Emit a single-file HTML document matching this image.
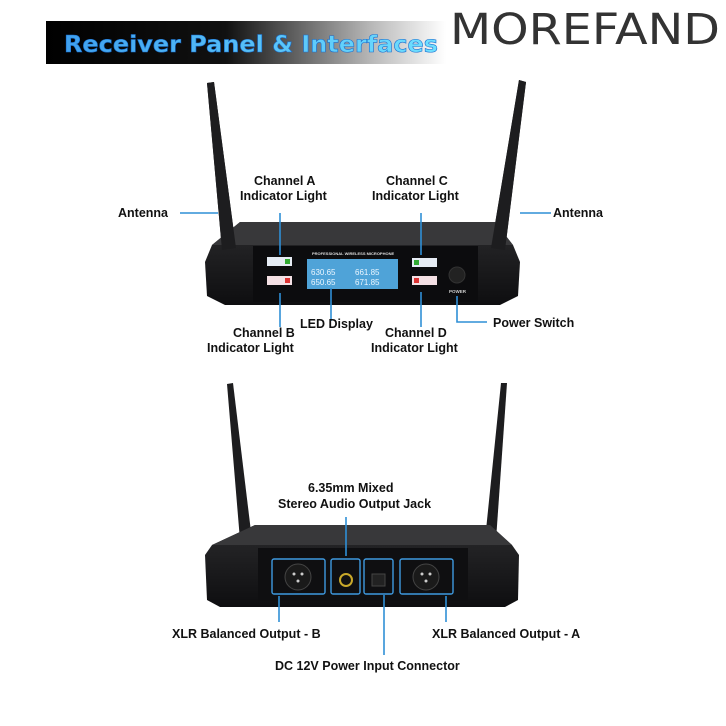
<!DOCTYPE html>
<html><head><meta charset="utf-8"><style>
html,body{margin:0;padding:0;background:#fff;}
svg{display:block;}
text{font-family:"Liberation Sans","DejaVu Sans",sans-serif;font-weight:bold;font-size:12.5px;fill:#111;}
</style></head><body>
<svg width="726" height="726" viewBox="0 0 726 726" xmlns="http://www.w3.org/2000/svg">
<defs>
<linearGradient id="bar" x1="0" x2="1" y1="0" y2="0">
<stop offset="0" stop-color="#000"/><stop offset="0.45" stop-color="#111"/><stop offset="0.82" stop-color="#bbb"/><stop offset="1" stop-color="#fff"/>
</linearGradient>
<linearGradient id="tt" x1="0" x2="1"><stop offset="0" stop-color="#3fa0ee"/><stop offset="1" stop-color="#6fe0ff"/></linearGradient>
<linearGradient id="body" x1="0" x2="0" y1="0" y2="1"><stop offset="0" stop-color="#2a2a2c"/><stop offset="1" stop-color="#0e0e10"/></linearGradient>
</defs>
<rect width="726" height="726" fill="#fff"/>
<!-- header -->
<rect x="46" y="21" width="400" height="43" fill="url(#bar)"/>
<text x="64" y="52" style="font-family:'DejaVu Sans',sans-serif;font-size:23px;font-weight:bold;fill:url(#tt);stroke:#1a6fd0;stroke-width:0.6" textLength="374" lengthAdjust="spacingAndGlyphs">Receiver Panel &amp; Interfaces</text>
<text x="450" y="44" style="font-family:'DejaVu Sans',sans-serif;font-size:43px;font-weight:normal;fill:#333" textLength="270" lengthAdjust="spacingAndGlyphs">MOREFAND</text>

<!-- TOP DEVICE -->
<polygon points="207,83 214,82 236,248 222,250" fill="#1d1d1f"/>
<polygon points="519,80 526,82 505,250 491,248" fill="#1d1d1f"/>
<path d="M240,222 L495,222 L513,245 L520,262 L518,296 L500,305 L225,305 L207,296 L205,262 L212,245 Z" fill="url(#body)"/>
<path d="M240,222 L495,222 L513,245 L212,245 Z" fill="#38383a"/>
<polygon points="207,83 214,82 236,248 222,250" fill="#1d1d1f"/>
<polygon points="519,80 526,82 505,250 491,248" fill="#1d1d1f"/>
<rect x="253" y="246" width="225" height="56" fill="#0c0c0e"/>
<text x="312" y="255" style="font-size:4px;fill:#ddd">PROFESSIONAL WIRELESS MICROPHONE</text>
<rect x="307" y="259" width="91" height="30" fill="#4fa3d8"/>
<text x="311" y="275" style="font-size:8px;font-weight:normal;fill:#eaf6ff">630.65</text>
<text x="311" y="285" style="font-size:8px;font-weight:normal;fill:#eaf6ff">650.65</text>
<text x="355" y="275" style="font-size:8px;font-weight:normal;fill:#eaf6ff">661.85</text>
<text x="355" y="285" style="font-size:8px;font-weight:normal;fill:#eaf6ff">671.85</text>
<rect x="267" y="257" width="25" height="9" fill="#e6ecf4"/><rect x="285" y="259" width="5" height="5" fill="#3a3"/>
<rect x="267" y="276" width="25" height="9" fill="#f4e0e4"/><rect x="285" y="278" width="5" height="5" fill="#d33"/>
<rect x="412" y="258" width="25" height="9" fill="#e6ecf4"/><rect x="414" y="260" width="5" height="5" fill="#3a3"/>
<rect x="412" y="276" width="25" height="9" fill="#f4e0e4"/><rect x="414" y="278" width="5" height="5" fill="#d33"/>
<circle cx="457" cy="275" r="8" fill="#222" stroke="#333"/>
<text x="449" y="293" style="font-size:4.5px;fill:#ccc">POWER</text>

<g stroke="#2f8fd6" stroke-width="1.6" fill="none">
<line x1="180" y1="213" x2="218" y2="213"/>
<line x1="520" y1="213" x2="551" y2="213"/>
<line x1="280" y1="213" x2="280" y2="255"/>
<line x1="280" y1="293" x2="280" y2="327"/>
<line x1="331" y1="288" x2="331" y2="321"/>
<line x1="421" y1="213" x2="421" y2="255"/>
<line x1="421" y1="292" x2="421" y2="327"/>
<polyline points="457,296 457,322 487,322"/>
</g>
<text x="118" y="217">Antenna</text>
<text x="553" y="217">Antenna</text>
<text x="254" y="185">Channel A</text>
<text x="240" y="200">Indicator Light</text>
<text x="386" y="185">Channel C</text>
<text x="372" y="200">Indicator Light</text>
<text x="233" y="337">Channel B</text>
<text x="207" y="352">Indicator Light</text>
<text x="300" y="328">LED Display</text>
<text x="385" y="337">Channel D</text>
<text x="371" y="352">Indicator Light</text>
<text x="493" y="327">Power Switch</text>

<!-- BOTTOM DEVICE -->
<polygon points="227,384 233,383 252,540 240,540" fill="#1d1d1f"/>
<polygon points="501,383 507,383 496,540 485,540" fill="#1d1d1f"/>
<path d="M255,525 L490,525 L512,545 L519,555 L518,600 L505,607 L220,607 L207,600 L205,555 L212,545 Z" fill="url(#body)"/>
<path d="M255,525 L490,525 L512,545 L212,545 Z" fill="#38383a"/>
<rect x="258" y="548" width="210" height="53" fill="#0f0f11"/>
<g stroke="#3f9ae0" stroke-width="1.4" fill="none">
<rect x="272" y="559" width="53" height="35" rx="2"/>
<rect x="331" y="559" width="29" height="35" rx="2"/>
<rect x="364" y="559" width="29" height="35" rx="2"/>
<rect x="400" y="559" width="53" height="35" rx="2"/>
</g>
<circle cx="298" cy="577" r="13" fill="#1a1a1a" stroke="#444"/>
<circle cx="426" cy="577" r="13" fill="#1a1a1a" stroke="#444"/>
<g fill="#ccc"><circle cx="294" cy="574" r="1.5"/><circle cx="302" cy="574" r="1.5"/><circle cx="298" cy="581" r="1.5"/><circle cx="422" cy="574" r="1.5"/><circle cx="430" cy="574" r="1.5"/><circle cx="426" cy="581" r="1.5"/></g>
<circle cx="346" cy="580" r="6" fill="#111" stroke="#c9a92a" stroke-width="2"/>
<rect x="372" y="574" width="13" height="12" fill="#222" stroke="#444"/>
<g stroke="#2f8fd6" stroke-width="1.6" fill="none">
<line x1="346" y1="517" x2="346" y2="556"/>
<line x1="279" y1="596" x2="279" y2="622"/>
<line x1="384" y1="595" x2="384" y2="655"/>
<line x1="446" y1="596" x2="446" y2="622"/>
</g>
<text x="308" y="492">6.35mm Mixed</text>
<text x="278" y="508">Stereo Audio Output Jack</text>
<text x="172" y="638">XLR Balanced Output - B</text>
<text x="432" y="638">XLR Balanced Output - A</text>
<text x="275" y="670">DC 12V Power Input Connector</text>
</svg>
</body></html>
